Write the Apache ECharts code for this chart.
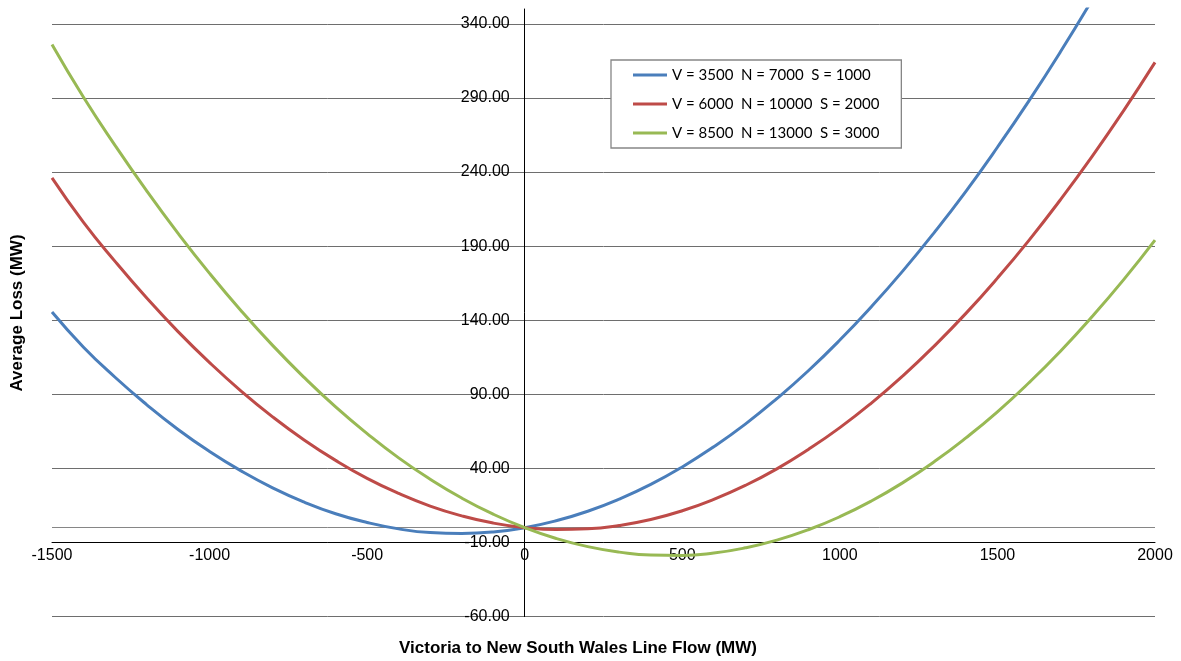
<!DOCTYPE html>
<html><head><meta charset="utf-8">
<script src="https://cdn.jsdelivr.net/npm/echarts@6/dist/echarts.min.js"></script>
<style>html,body{margin:0;padding:0;background:#fff}#c{width:1181px;height:661px}</style>
</head><body><div id="c"></div>
<script>
const seriesNames = ['V = 3500  N = 7000  S = 1000', 'V = 6000  N = 10000  S = 2000', 'V = 8500  N = 13000  S = 3000'];
const seriesColors = ['#4A7EBB', '#BE4B48', '#98B954'];

// line flow (MW) sample points, read every 100 MW
const flow = [-1500, -1400, -1300, -1200, -1100, -1000, -900, -800, -700, -600, -500, -400, -300, -200, -100,
  0, 100, 200, 300, 400, 500, 600, 700, 800, 900, 1000, 1100, 1200, 1300, 1400, 1500, 1600, 1700, 1800, 1900, 2000];

// average loss (MW)
const lossA = [145.5, 121.8, 101.5, 83.1, 66.3, 51.4, 38.3, 26.9, 17.3, 9.4, 3.5, -0.8, -3.3, -3.9, -2.9,
  0, 4.7, 11.1, 19.3, 29.2, 41, 54.6, 69.9, 87.1, 105.9, 126.6, 149.1, 173.3, 199.3, 227, 256.7, 288, 321.1, 356, null, null];
const lossB = [236, 206, 179.7, 155.1, 132.3, 111.4, 92.2, 74.8, 59.2, 45.4, 33.3, 23.1, 14.6, 8, 3.1,
  0, -1.3, -0.8, 1.5, 5.5, 11.4, 19.1, 28.5, 39.7, 52.8, 67.5, 84.1, 102.5, 122.7, 144.6, 168.4, 193.9, 221.3, 250.4, 281.3, 314];
const lossC = [326, 290.4, 258, 227.4, 198.6, 171.6, 146.4, 123, 101.4, 81.5, 63.5, 47.1, 32.7, 20, 9.1,
  0, -7.3, -12.8, -16.5, -18.5, -18.7, -17.1, -13.6, -8.4, -1.4, 7.4, 18, 30.4, 44.6, 60.6, 78.2, 97.8, 119.1, 142.3, 167.2, 194];

const xTicks = {min: -1500, max: 2000, interval: 500};
const yTicks = {min: -60, max: 350, interval: 50};

const zip = (xs, ys) => xs.map((x, i) => [x, ys[i]]).filter(p => p[1] !== null);
const seriesData = [zip(flow, lossA), zip(flow, lossB), zip(flow, lossC)];

const FONT = 'Liberation Sans, Arial, sans-serif';
const GRID = {left: 52, right: 26, top: 9, bottom: 44.4};
const plotW = 1181 - GRID.left - GRID.right;
const plotH = 661 - GRID.top - GRID.bottom;
const yAxisShift = plotW * (0 - xTicks.min) / (xTicks.max - xTicks.min);
const xAxisShift = plotH * (-10 - yTicks.min) / (yTicks.max - yTicks.min);

const chart = echarts.init(document.getElementById('c'), null, {renderer: 'canvas'});
chart.setOption({
  animation: false,
  backgroundColor: '#fff',
  grid: Object.assign({containLabel: false, outerBoundsMode: 'none'}, GRID),
  xAxis: {
    type: 'value', min: xTicks.min, max: xTicks.max, interval: xTicks.interval,
    position: 'bottom', offset: -xAxisShift,
    axisLine: {onZero: false, lineStyle: {color: '#000', width: 1}},
    axisTick: {show: false},
    splitLine: {show: false},
    axisLabel: {color: '#000', fontSize: 16, fontFamily: FONT, margin: 5, formatter: v => String(v)}
  },
  yAxis: {
    type: 'value', min: yTicks.min, max: yTicks.max, interval: yTicks.interval,
    position: 'left', offset: -yAxisShift,
    axisLine: {onZero: false, lineStyle: {color: '#000', width: 1}},
    axisTick: {show: false},
    splitLine: {show: true, showMaxLine: false, lineStyle: {color: '#6e6e6e', width: 1}},
    axisLabel: {color: '#000', fontSize: 16, fontFamily: FONT, margin: 15, showMaxLabel: false,
      formatter: v => (v > 345 ? '' : v.toFixed(2))}
  },
  legend: {
    orient: 'vertical', left: 611, top: 60,
    padding: [7, 22, 7, 22],
    icon: 'rect', itemWidth: 34, itemHeight: 3, itemGap: 13,
    backgroundColor: '#fff', borderColor: '#868686', borderWidth: 1.3,
    textStyle: {color: '#000', fontSize: 15, fontFamily: 'Lato, Open Sans, sans-serif', lineHeight: 16},
    data: seriesNames
  },
  graphic: [
    {type: 'text', x: 17, y: 313, rotation: Math.PI / 2,
      style: {text: 'Average Loss (MW)', font: 'bold 17px ' + FONT, fill: '#000', textAlign: 'center', textVerticalAlign: 'middle'}},
    {type: 'text', x: 578, y: 648,
      style: {text: 'Victoria to New South Wales Line Flow (MW)', font: 'bold 17px ' + FONT, fill: '#000', textAlign: 'center', textVerticalAlign: 'middle'}}
  ],
  series: seriesNames.map((name, i) => ({
    name: name, type: 'line', data: seriesData[i],
    smooth: true, symbol: 'none', showSymbol: false, clip: true,
    lineStyle: {color: seriesColors[i], width: 3},
    itemStyle: {color: seriesColors[i]},
    z: 3 + i,
    markLine: i === 0 ? {
      silent: true, symbol: 'none', label: {show: false},
      lineStyle: {color: '#868686', width: 1, type: 'solid'},
      data: [{yAxis: 0}], z: 1
    } : undefined
  }))
});
</script></body></html>
